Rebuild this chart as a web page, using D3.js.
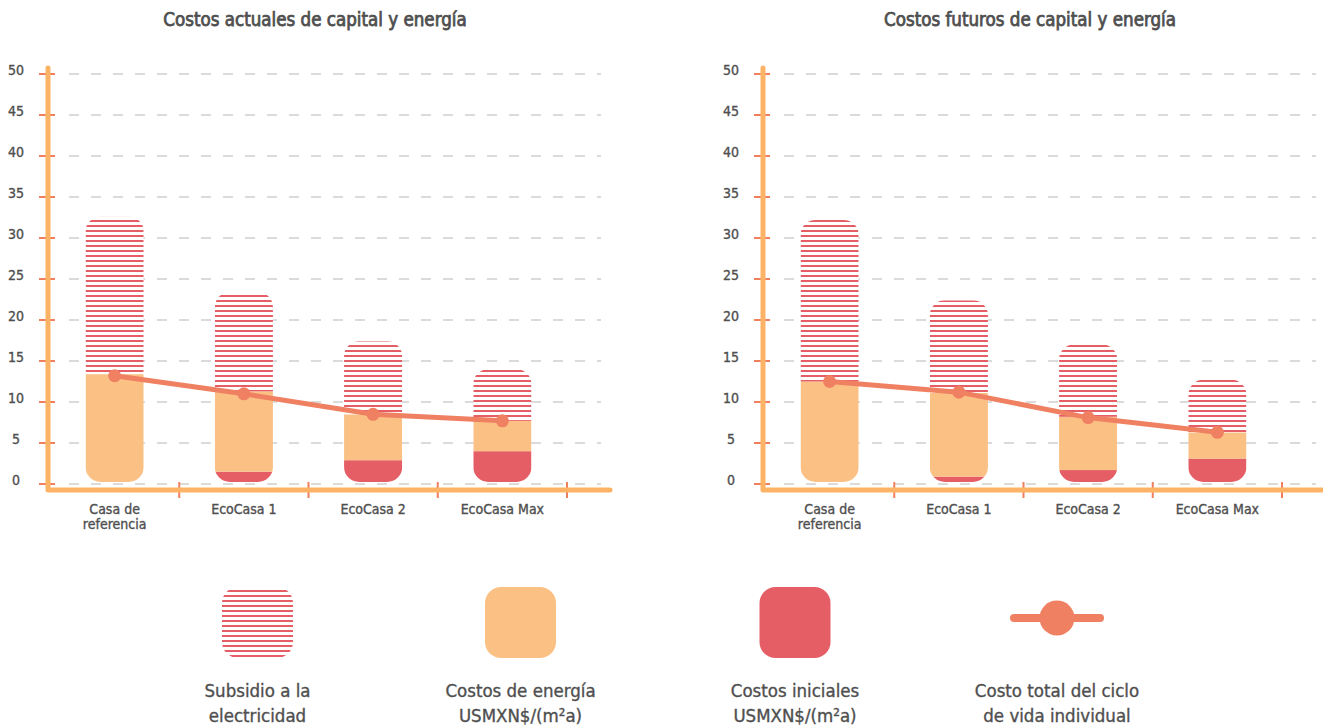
<!DOCTYPE html>
<html>
<head>
<meta charset="utf-8">
<script src="https://cdn.jsdelivr.net/npm/d3@7"></script>
<style>
  html, body { margin: 0; padding: 0; background: #fff; }
  svg { display: block; font-family: "DejaVu Sans Condensed", "DejaVu Sans", sans-serif; }
</style>
</head>
<body>
<svg id="chart" width="1323" height="727"></svg>
<script>
// Categories (house variants) and their wrapped axis labels
const categories = ["Casa de referencia", "EcoCasa 1", "EcoCasa 2", "EcoCasa Max"];
const categoryLabels = [["Casa de", "referencia"], ["EcoCasa 1"], ["EcoCasa 2"], ["EcoCasa Max"]];
const yTicks = [0, 5, 10, 15, 20, 25, 30, 35, 40, 45, 50];

// Current costs (USMXN$/(m²a)), stacked from bottom to top
const actualInitial   = [0.0, 1.5, 2.9, 4.0];
const actualEnergy    = [13.4, 9.8, 5.6, 3.7];
const actualSubsidy   = [19.2, 12.1, 8.9, 6.3];
const actualLifecycle = [13.2, 11.0, 8.5, 7.7];

// Future costs
const futureInitial   = [0.0, 0.9, 1.7, 3.1];
const futureEnergy    = [12.5, 10.2, 6.5, 3.2];
const futureSubsidy   = [19.7, 11.3, 8.8, 6.4];
const futureLifecycle = [12.5, 11.2, 8.1, 6.3];

const titles = ["Costos actuales de capital y energía", "Costos futuros de capital y energía"];
const legendLabels = [
  ["Subsidio a la", "electricidad"],
  ["Costos de energía", "USMXN$/(m²a)"],
  ["Costos iniciales", "USMXN$/(m²a)"],
  ["Costo total del ciclo", "de vida individual"]
];

const C = {
  axis: "#FDB366",
  tick: "#F07F5E",
  grid: "#CFCFCF",
  energy: "#FBC184",
  initial: "#E55E66",
  hatch: "#E55E66",
  line: "#F08062",
  text: "#4F4F4F"
};

const svg = d3.select("#chart");
const defs = svg.append("defs");

// Horizontal stripe pattern for the subsidy segment
const pat = defs.append("pattern")
  .attr("id", "stripes")
  .attr("patternUnits", "userSpaceOnUse")
  .attr("width", 10).attr("height", 5);
pat.append("rect").attr("width", 10).attr("height", 5).attr("fill", "#fff");
pat.append("rect").attr("y", 0).attr("width", 10).attr("height", 2).attr("fill", C.hatch);

const panel = { w: 562, top: 74, bottom: 484, axisY: 490 };

// Slightly heavier text strokes
function textStyle(sel, size, weight) {
  return sel.attr("font-size", size).attr("fill", C.text)
    .attr("stroke", C.text).attr("stroke-width", weight || 0.35);
}

function drawChart(ox, title, initial, energy, subsidy, lifecycle, idx) {
  const g = svg.append("g").attr("transform", `translate(${ox},0)`);

  const y = d3.scaleLinear().domain([0, 50]).range([panel.bottom, panel.top]);
  const x = d3.scaleBand().domain(categories).range([2, 519]).paddingInner(0.55).paddingOuter(0.275);

  // Title
  textStyle(g.append("text"), 18.6, 0.75)
    .attr("x", 267).attr("y", 26)
    .attr("text-anchor", "middle")
    .text(title);

  // Dashed gridlines
  g.append("g").selectAll("line").data(yTicks).join("line")
    .attr("x1", 15).attr("x2", 553)
    .attr("y1", d => y(d)).attr("y2", d => y(d))
    .attr("stroke", C.grid).attr("stroke-width", 1.3)
    .attr("stroke-dasharray", "10 12").attr("stroke-dashoffset", 16);

  // Y tick labels
  textStyle(g.append("g").selectAll("text").data(yTicks).join("text"), 14)
    .attr("x", -32).attr("y", d => y(d) + 1)
    .attr("text-anchor", "middle")
    .text(d => d);

  // Stacked bars, clipped to a rounded capsule
  const barsLayer = g.append("g");
  categories.forEach((cat, i) => {
    const bx = x(cat), bw = x.bandwidth();
    const total = initial[i] + energy[i] + subsidy[i];
    const clipId = `clip-${idx}-${i}`;
    defs.append("clipPath").attr("id", clipId)
      .append("rect")
      .attr("x", bx).attr("y", y(total))
      .attr("width", bw).attr("height", y(0) - 2 - y(total))
      .attr("rx", 15).attr("ry", 15);
    const bg = barsLayer.append("g").attr("clip-path", `url(#${clipId})`);
    const segs = [
      { v0: 0, v1: initial[i], fill: C.initial },
      { v0: initial[i], v1: initial[i] + energy[i], fill: C.energy },
      { v0: initial[i] + energy[i], v1: total, fill: "url(#stripes)" }
    ];
    bg.selectAll("rect").data(segs).join("rect")
      .attr("x", bx).attr("width", bw)
      .attr("y", d => y(d.v1)).attr("height", d => y(d.v0) - y(d.v1))
      .attr("fill", d => d.fill);
  });

  // Lifecycle cost line
  const lineGen = d3.line()
    .x((d, i) => x(categories[i]) + x.bandwidth() / 2)
    .y(d => y(d));
  g.append("path").datum(lifecycle)
    .attr("d", lineGen)
    .attr("fill", "none").attr("stroke", C.line)
    .attr("stroke-width", 5).attr("stroke-linejoin", "round");
  g.append("g").selectAll("circle").data(lifecycle).join("circle")
    .attr("cx", (d, i) => x(categories[i]) + x.bandwidth() / 2)
    .attr("cy", d => y(d)).attr("r", 6.5)
    .attr("fill", C.line);

  // Y-axis tick marks
  g.append("g").selectAll("line").data(yTicks).join("line")
    .attr("x1", -9).attr("x2", 7)
    .attr("y1", d => y(d)).attr("y2", d => y(d))
    .attr("stroke", C.tick).attr("stroke-width", 2);

  // X-axis tick marks at band boundaries
  const bounds = categories.map(c => x(c) + x.bandwidth() / 2 + x.step() / 2);
  g.append("g").selectAll("line").data(bounds).join("line")
    .attr("x1", d => d).attr("x2", d => d)
    .attr("y1", 482).attr("y2", 498)
    .attr("stroke", C.tick).attr("stroke-width", 2);

  // Axis lines
  g.append("path")
    .attr("d", `M0,${panel.top - 6}V${panel.axisY}H${panel.w}`)
    .attr("fill", "none").attr("stroke", C.axis)
    .attr("stroke-width", 5).attr("stroke-linecap", "round").attr("stroke-linejoin", "round");

  // Category labels
  const lab = textStyle(g.append("g").selectAll("text").data(categories).join("text"), 14)
    .attr("text-anchor", "middle");
  lab.each(function (c, i) {
    d3.select(this).selectAll("tspan").data(categoryLabels[i]).join("tspan")
      .attr("x", x(c) + x.bandwidth() / 2)
      .attr("y", (d, j) => 514 + j * 15)
      .text(d => d);
  });
}

drawChart(48, titles[0], actualInitial, actualEnergy, actualSubsidy, actualLifecycle, 0);
drawChart(763, titles[1], futureInitial, futureEnergy, futureSubsidy, futureLifecycle, 1);

// Legend
const legendX = [257.5, 520.5, 795, 1057];
const lg = svg.append("g");
legendX.forEach((cx, i) => {
  const item = lg.append("g");
  if (i < 3) {
    item.append("rect")
      .attr("x", cx - 35.5).attr("y", 587).attr("width", 71).attr("height", 71)
      .attr("rx", 16).attr("ry", 16)
      .attr("fill", i === 0 ? "url(#stripes)" : (i === 1 ? C.energy : C.initial));
  } else {
    item.append("line")
      .attr("x1", cx - 43).attr("x2", cx + 43).attr("y1", 618).attr("y2", 618)
      .attr("stroke", C.line).attr("stroke-width", 8).attr("stroke-linecap", "round");
    item.append("circle").attr("cx", cx).attr("cy", 618).attr("r", 17.5).attr("fill", C.line);
  }
  textStyle(item.append("text"), 18.5)
    .attr("text-anchor", "middle")
    .selectAll("tspan").data(legendLabels[i]).join("tspan")
    .attr("x", cx).attr("y", (d, j) => 697 + j * 25)
    .text(d => d);
});
</script>
</body>
</html>
